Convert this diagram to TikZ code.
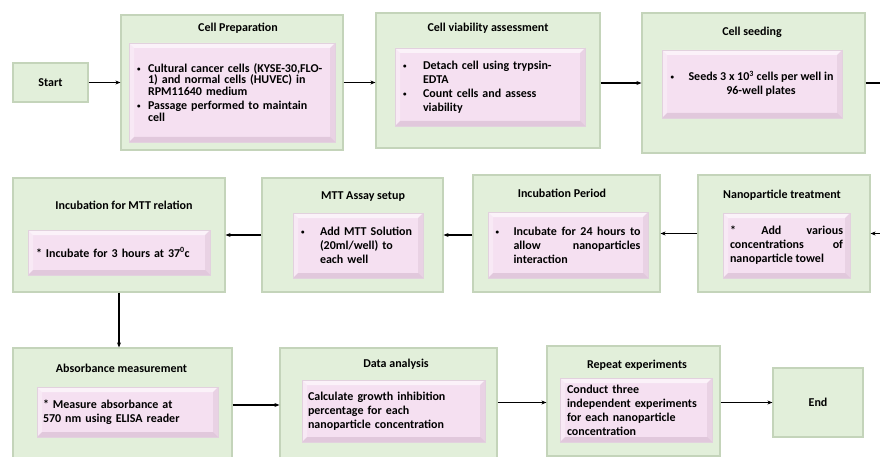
\documentclass[tikz,border=0pt]{standalone}
\usepackage{fontspec}
\setmainfont{Carlito}
\usetikzlibrary{arrows.meta,shadows}
\definecolor{boxgreen}{RGB}{226,239,218}
\definecolor{boxedge}{RGB}{196,212,186}
\definecolor{boxpink}{RGB}{245,224,241}
\definecolor{pinkedge}{RGB}{206,178,200}
\newcommand\bul[1]{\makebox[#1][l]{\raisebox{1pt}{\fontsize{7}{7}\selectfont\textbullet}}}
\newcommand\ind[1]{\hspace*{#1}}

\begin{document}
\begin{tikzpicture}[x=1pt,y=-1pt,
  outerbox/.style={rectangle, draw=boxedge, line width=1.2pt, fill=boxgreen, drop shadow={shadow xshift=1pt,shadow yshift=-1pt,opacity=0.3}},
  innerbox/.style={rectangle, draw=pinkedge!60, line width=0.6pt, fill=boxpink, inner ysep=2pt, drop shadow={shadow xshift=1pt,shadow yshift=-1pt,opacity=0.3},
    path picture={
      \fill[white,opacity=0.6] (path picture bounding box.north west) -- (path picture bounding box.north east) -- ([xshift=-5pt,yshift=-5pt]path picture bounding box.north east) -- ([xshift=5pt,yshift=-5pt]path picture bounding box.north west) -- cycle;
      \fill[white,opacity=0.3] (path picture bounding box.north west) -- (path picture bounding box.south west) -- ([xshift=5pt,yshift=5pt]path picture bounding box.south west) -- ([xshift=5pt,yshift=-5pt]path picture bounding box.north west) -- cycle;
      \fill[pinkedge,opacity=0.5] (path picture bounding box.south west) -- (path picture bounding box.south east) -- ([xshift=-5pt,yshift=5pt]path picture bounding box.south east) -- ([xshift=5pt,yshift=5pt]path picture bounding box.south west) -- cycle;
      \fill[pinkedge,opacity=0.3] (path picture bounding box.north east) -- (path picture bounding box.south east) -- ([xshift=-5pt,yshift=5pt]path picture bounding box.south east) -- ([xshift=-5pt,yshift=-5pt]path picture bounding box.north east) -- cycle;
    }},
  boxtitle/.style={font=\bfseries\fontsize{12}{14}\selectfont},
  boxtext/.style={font=\bfseries\fontsize{12}{14}\selectfont},
  arr/.style={-{Stealth[length=5pt,width=4pt]}, line width=1.1pt}]
\useasboundingbox (0,0) rectangle (880,457);
\clip (0,0) rectangle (880,457);
% row 1
\node[outerbox, minimum width=75pt, minimum height=39pt, boxtext] (start) at (50.5,82.5) {Start};
\node[outerbox, minimum width=222pt, minimum height=135pt] (prep) at (232,82.5) {};
\node[boxtitle] (tprep) at (238,28) {Cell Preparation};
\node[innerbox, minimum width=206pt, minimum height=99pt, text width=190pt, inner xsep=8pt, align=left, font=\bfseries\fontsize{12}{11.5}\selectfont] (iprep) at (232,92.5) {\bul{11pt}Cultural cancer cells (KYSE-30,FLO-\\\ind{11pt}1) and normal cells (HUVEC) in\\\ind{11pt}RPM11640 medium\\[3pt]\bul{11pt}Passage performed to maintain\\\ind{11pt}cell};
\node[outerbox, minimum width=224pt, minimum height=135pt] (viab) at (488,80.5) {};
\node[boxtitle] (tviab) at (488,28) {Cell viability assessment};
\node[innerbox, minimum width=190pt, minimum height=78pt, text width=174pt, inner xsep=8pt, align=left, boxtext] (iviab) at (490,87) {\bul{20pt}Detach cell using trypsin-\\\ind{20pt}EDTA\\\bul{20pt}Count cells and assess\\\ind{20pt}viability};
\node[outerbox, minimum width=223pt, minimum height=140pt] (seed) at (753.5,83) {};
\node[boxtitle] (tseed) at (752,32) {Cell seeding};
\node[innerbox, minimum width=180pt, minimum height=68pt, align=center, boxtext] (iseed) at (752,84) {\bul{18pt}Seeds 3 x 10\textsuperscript{3} cells per well in\\\ind{18pt}96-well plates};
\draw[arr] (start) -- (prep);
\draw[arr] (prep.east) -- (prep.east -| viab.west);
\draw[arr] (viab.east |- seed.west) -- (seed.west);
% row 2
\node[outerbox, minimum width=172pt, minimum height=117pt] (nano) at (784,233.5) {};
\node[boxtitle] (tnano) at (782,195) {Nanoparticle treatment};
\node[innerbox, minimum width=127pt, minimum height=65pt, text width=113pt, inner xsep=7pt, align=justify, boxtext] (inano) at (786.5,245.5) {* Add various\linebreak concentrations of\linebreak nanoparticle towel};
\node[outerbox, minimum width=187pt, minimum height=117pt] (incp) at (566.5,233.5) {};
\node[boxtitle] (tincp) at (562,193) {Incubation Period};
\node[innerbox, minimum width=160pt, minimum height=66pt, text width=145pt, inner xsep=7.5pt, align=justify, boxtext] (iincp) at (568,245) {\bul{18pt}Incubate for 24 hours to\linebreak allow nanoparticles\linebreak interaction\hangindent=18pt\par};
\node[outerbox, minimum width=181pt, minimum height=114pt] (mtt) at (352.5,235) {};
\node[boxtitle] (tmtt) at (363,197) {MTT Assay setup};
\node[innerbox, minimum width=130pt, minimum height=65pt, text width=114pt, inner xsep=8pt, align=left, boxtext] (imtt) at (358,245.5) {\bul{19pt}Add MTT Solution\\\ind{19pt}(20ml/well) to\\\ind{19pt}each well};
\node[outerbox, minimum width=212pt, minimum height=114pt] (incmtt) at (119,235) {};
\node[boxtitle] (tincmtt) at (124,205) {Incubation for MTT relation};
\node[innerbox, minimum width=182pt, minimum height=45pt, text width=166pt, inner xsep=8pt, align=left, boxtext] (iincmtt) at (119,252.5) {* Incubate for 3 hours at 37\textsuperscript{0}c};
\draw[arr] (seed.east) -- ++(25,0) |- (nano.east);
\draw[arr] (nano) -- (incp);
\draw[arr] (incp.west |- mtt.east) -- (mtt.east);
\draw[arr] (mtt) -- (incmtt);
% row 3
\node[outerbox, minimum width=219pt, minimum height=114pt] (absorb) at (122.5,405) {};
\node[boxtitle] (tabsorb) at (121.5,368) {Absorbance measurement};
\node[innerbox, minimum width=181pt, minimum height=50pt, text width=169pt, inner xsep=6pt, align=left, boxtext] (iabsorb) at (127.5,412) {* Measure absorbance at\\570 nm using ELISA reader};
\node[outerbox, minimum width=217pt, minimum height=114pt] (data) at (388.5,405) {};
\node[boxtitle] (tdata) at (396,364) {Data analysis};
\node[innerbox, minimum width=183pt, minimum height=62pt, text width=171pt, inner xsep=6pt, align=left, boxtext] (idata) at (393.5,411) {Calculate growth inhibition\\percentage for each\\nanoparticle concentration};
\node[outerbox, minimum width=173pt, minimum height=110pt] (rep) at (633.5,401) {};
\node[boxtitle] (trep) at (637,365) {Repeat experiments};
\node[innerbox, minimum width=152pt, minimum height=64pt, text width=138pt, inner xsep=7pt, align=left, boxtext] (irep) at (636,410) {Conduct three\\independent experiments\\for each nanoparticle\\concentration};
\node[outerbox, minimum width=90pt, minimum height=69pt, boxtext] (end) at (818,402.5) {End};
\draw[arr] (incmtt.south) -- (incmtt.south |- absorb.north);
\draw[arr] (absorb) -- (data);
\draw[arr] (data.east |- end) -- (rep.west |- end);
\draw[arr] (rep.east |- end) -- (end);
\end{tikzpicture}
\end{document}
